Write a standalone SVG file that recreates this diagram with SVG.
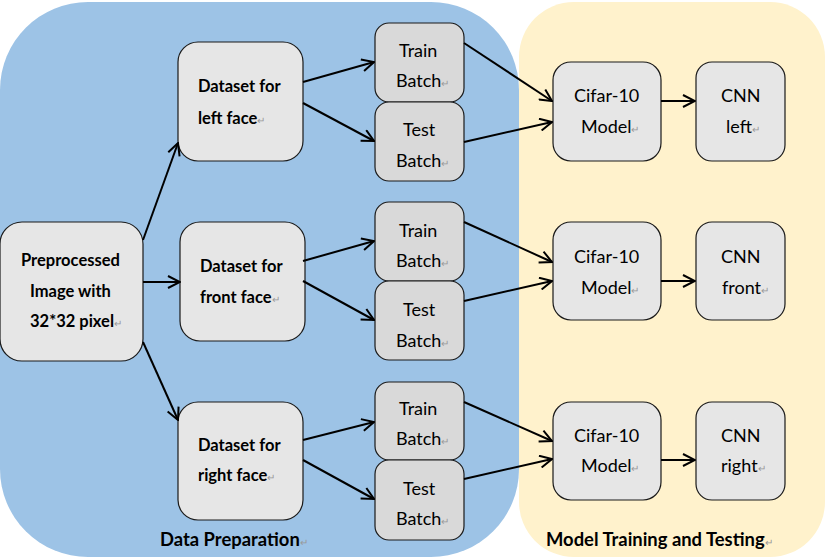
<svg xmlns="http://www.w3.org/2000/svg" width="827" height="558" viewBox="0 0 827 558">
<style>
.bg{stroke:none}
.n rect{stroke:#1a1a1a;stroke-width:1.2}
.g1{fill:#E6E6E6}
.g2{fill:#D9D9D9}
text{font-family:Lato,"Liberation Sans",sans-serif;fill:#000}
.b{font-weight:bold;font-size:16.5px}
.r{font-size:18px}
.t{font-weight:bold;font-size:18.4px}
.pm{fill:#999;font-size:10px;font-weight:normal}
#conn line{stroke:#000;stroke-width:2;marker-end:url(#ah)}
</style>
<defs>
<marker id="ah" viewBox="0 0 14 14" refX="13" refY="7" markerWidth="14" markerHeight="14" markerUnits="userSpaceOnUse" orient="auto">
<path d="M1,1 L13,7 L1,13" fill="none" stroke="#000" stroke-width="2"/>
</marker>
</defs>
<rect width="827" height="558" fill="#fff"/>
<g id="regions">
<rect class="bg" x="0" y="2" width="519" height="555" rx="88" fill="#9DC3E6"/>
<rect class="bg" x="519" y="2" width="306" height="555" rx="55" fill="#FFF2CC"/>
</g>
<g id="pre" class="n"><rect class="g1" x="0" y="222" width="143" height="139" rx="22"/>
<text class="b" x="21" y="266">Preprocessed</text>
<text class="b" x="30" y="297">Image with</text>
<text class="b" x="30" y="327">32*32 pixel<tspan class="pm">↵</tspan></text></g>
<g id="dsl" class="n"><rect class="g1" x="178" y="42" width="125" height="119" rx="20"/>
<text class="b" x="198" y="92">Dataset for</text>
<text class="b" x="198" y="124">left face<tspan class="pm">↵</tspan></text></g>
<g id="dsf" class="n"><rect class="g1" x="180" y="222" width="125" height="119" rx="20"/>
<text class="b" x="200" y="272">Dataset for</text>
<text class="b" x="200" y="303">front face<tspan class="pm">↵</tspan></text></g>
<g id="dsr" class="n"><rect class="g1" x="178" y="402" width="125" height="118" rx="20"/>
<text class="b" x="198" y="451">Dataset for</text>
<text class="b" x="198" y="481">right face<tspan class="pm">↵</tspan></text></g>

<g id="trl" class="n"><rect class="g2" x="375" y="23" width="89" height="79" rx="14"/>
<text class="r" x="399" y="57">Train</text><text class="r" x="396" y="87">Batch<tspan class="pm">↵</tspan></text></g>
<g id="tel" class="n"><rect class="g2" x="375" y="102" width="89" height="79" rx="14"/>
<text class="r" x="403" y="136">Test</text><text class="r" x="396" y="167">Batch<tspan class="pm">↵</tspan></text></g>
<g id="trf" class="n"><rect class="g2" x="375" y="202" width="89" height="79" rx="14"/>
<text class="r" x="399" y="237">Train</text><text class="r" x="396" y="267">Batch<tspan class="pm">↵</tspan></text></g>
<g id="tef" class="n"><rect class="g2" x="375" y="281" width="89" height="79" rx="14"/>
<text class="r" x="403" y="316">Test</text><text class="r" x="396" y="347">Batch<tspan class="pm">↵</tspan></text></g>
<g id="trr" class="n"><rect class="g2" x="375" y="382" width="89" height="78" rx="14"/>
<text class="r" x="399" y="415">Train</text><text class="r" x="396" y="445">Batch<tspan class="pm">↵</tspan></text></g>
<g id="ter" class="n"><rect class="g2" x="375" y="460" width="89" height="80" rx="14"/>
<text class="r" x="403" y="495">Test</text><text class="r" x="396" y="525">Batch<tspan class="pm">↵</tspan></text></g>

<g id="cml" class="n"><rect class="g1" x="553" y="62" width="108" height="99" rx="18"/>
<text class="r" x="574" y="102">Cifar-10</text><text class="r" x="581" y="133">Model<tspan class="pm">↵</tspan></text></g>
<g id="cmf" class="n"><rect class="g1" x="553" y="222" width="108" height="98" rx="18"/>
<text class="r" x="574" y="263">Cifar-10</text><text class="r" x="581" y="294">Model<tspan class="pm">↵</tspan></text></g>
<g id="cmr" class="n"><rect class="g1" x="553" y="402" width="108" height="98" rx="18"/>
<text class="r" x="574" y="442">Cifar-10</text><text class="r" x="581" y="472">Model<tspan class="pm">↵</tspan></text></g>

<g id="cnl" class="n"><rect class="g1" x="696" y="62" width="89" height="99" rx="16"/>
<text class="r" x="721" y="102">CNN</text><text class="r" x="726" y="133">left<tspan class="pm">↵</tspan></text></g>
<g id="cnf" class="n"><rect class="g1" x="696" y="222" width="89" height="98" rx="16"/>
<text class="r" x="721" y="263">CNN</text><text class="r" x="722" y="294">front<tspan class="pm">↵</tspan></text></g>
<g id="cnr" class="n"><rect class="g1" x="696" y="402" width="89" height="98" rx="16"/>
<text class="r" x="721" y="442">CNN</text><text class="r" x="721" y="472">right<tspan class="pm">↵</tspan></text></g>

<g id="labels">
<text class="t" x="160" y="546">Data Preparation<tspan class="pm">↵</tspan></text>
<text class="t" x="546" y="546">Model Training and Testing<tspan class="pm">↵</tspan></text>
</g>

<g id="conn">
<line x1="143" y1="240" x2="178" y2="143"/>
<line x1="143" y1="282" x2="180" y2="282"/>
<line x1="143" y1="342" x2="178" y2="420"/>
<line x1="303" y1="82" x2="374" y2="62"/>
<line x1="303" y1="103" x2="374" y2="141"/>
<line x1="303" y1="261" x2="374" y2="241"/>
<line x1="303" y1="281" x2="374" y2="320"/>
<line x1="303" y1="440" x2="374" y2="422"/>
<line x1="303" y1="460" x2="374" y2="499"/>
<line x1="464" y1="43" x2="552" y2="101"/>
<line x1="464" y1="142" x2="552" y2="122"/>
<line x1="464" y1="222" x2="552" y2="262"/>
<line x1="464" y1="301" x2="552" y2="281"/>
<line x1="464" y1="402" x2="552" y2="441"/>
<line x1="464" y1="479" x2="552" y2="459"/>
<line x1="661" y1="101" x2="695" y2="101"/>
<line x1="661" y1="281" x2="695" y2="281"/>
<line x1="661" y1="460" x2="695" y2="460"/>
</g>
</svg>
